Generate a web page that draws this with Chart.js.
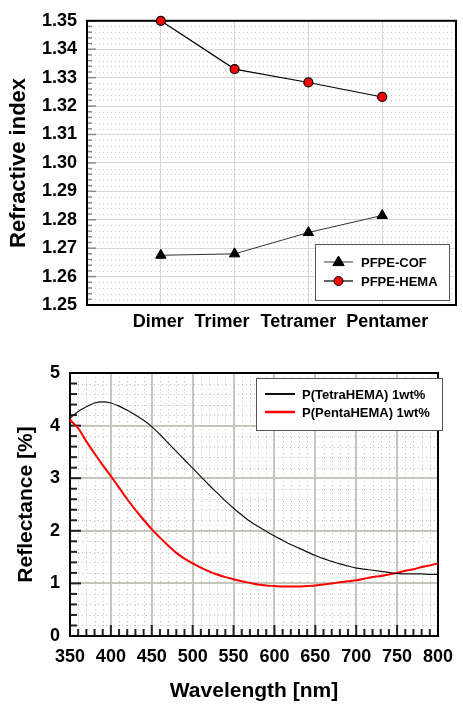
<!DOCTYPE html>
<html>
<head>
<meta charset="utf-8">
<script src="https://cdn.jsdelivr.net/npm/chart.js@4.4.1/dist/chart.umd.min.js"></script>
<style>
  body { margin: 0; background: #fff; }
  canvas { display: block; }
</style>
</head>
<body>
<canvas id="ri-chart" width="463" height="340"></canvas>
<canvas id="refl-chart" width="463" height="365"></canvas>
<script>
// top chart: refractive index per oligomer
const categories = ['Dimer', 'Trimer', 'Tetramer', 'Pentamer'];
const cofValues = [1.2675, 1.2680, 1.2755, 1.2815];
const hemaValues = [1.3500, 1.3330, 1.3283, 1.3232];
const riTicks = [1.25, 1.26, 1.27, 1.28, 1.29, 1.30, 1.31, 1.32, 1.33, 1.34, 1.35];

// bottom chart: reflectance spectra
const wavelengths = [350, 360, 370, 380, 390, 400, 410, 420, 430, 440,
  450, 460, 470, 480, 490, 500, 510, 520, 530, 540,
  550, 560, 570, 580, 590, 600, 610, 620, 630, 640,
  650, 660, 670, 680, 690, 700, 710, 720, 730, 740,
  750, 760, 770, 780, 790, 800];
const tetraValues = [4.14, 4.27, 4.36, 4.43, 4.45, 4.43, 4.37, 4.29, 4.20, 4.10,
  3.98, 3.83, 3.67, 3.51, 3.35, 3.19, 3.03, 2.87, 2.72, 2.57,
  2.43, 2.30, 2.18, 2.08, 1.99, 1.90, 1.82, 1.74, 1.67, 1.60,
  1.53, 1.47, 1.42, 1.37, 1.33, 1.29, 1.27, 1.25, 1.23, 1.21,
  1.19, 1.18, 1.18, 1.18, 1.17, 1.17];
const pentaValues = [4.11, 3.95, 3.70, 3.47, 3.25, 3.04, 2.82, 2.60, 2.40, 2.21,
  2.03, 1.87, 1.72, 1.58, 1.47, 1.38, 1.30, 1.23, 1.17, 1.12,
  1.08, 1.04, 1.01, 0.98, 0.96, 0.95, 0.94, 0.94, 0.94, 0.95,
  0.96, 0.98, 1.00, 1.02, 1.04, 1.06, 1.09, 1.12, 1.14, 1.17,
  1.20, 1.24, 1.27, 1.31, 1.34, 1.38];

const FONT = "'Liberation Sans', Arial, sans-serif";

function isMajor(v, step) {
  const r = v / step;
  return Math.abs(r - Math.round(r)) < 1e-6;
}

// dotted minor grid, inner tick marks and the black frame
const boxFrame = {
  id: 'boxFrame',
  beforeDraw(chart, args, o) {
    const { ctx, chartArea: a, scales } = chart;
    ctx.save();
    ctx.strokeStyle = o.dotColor;
    ctx.lineWidth = 1;
    ctx.setLineDash([1, 3]);
    if (o.yMinor) {
      for (let v = scales.y.min; v <= scales.y.max + 1e-9; v += o.yMinor) {
        if (isMajor(v - scales.y.min, o.yMajor)) continue;
        const y = Math.round(scales.y.getPixelForValue(v)) + 0.5;
        ctx.beginPath(); ctx.moveTo(a.left, y); ctx.lineTo(a.right, y); ctx.stroke();
      }
    }
    if (o.xMinor) {
      for (let v = scales.x.min; v <= scales.x.max + 1e-9; v += o.xMinor) {
        if (isMajor(v - scales.x.min, o.xMajor)) continue;
        const x = Math.round(scales.x.getPixelForValue(v)) + 0.5;
        ctx.beginPath(); ctx.moveTo(x, a.top); ctx.lineTo(x, a.bottom); ctx.stroke();
      }
    }
    ctx.restore();
  },
  beforeDatasetsDraw(chart, args, o) {
    const { ctx, chartArea: a, scales } = chart;
    ctx.save();
    ctx.strokeStyle = o.tickColor;
    ctx.lineWidth = o.tickWidth;
    if (o.yMinor) {
      for (let v = scales.y.min; v <= scales.y.max + 1e-9; v += o.yMinor) {
        const len = isMajor(v - scales.y.min, o.yMajor) ? o.majorLen : o.minorLen;
        const y = scales.y.getPixelForValue(v);
        ctx.beginPath(); ctx.moveTo(a.left, y); ctx.lineTo(a.left + len, y); ctx.stroke();
      }
    }
    if (o.xMinor) {
      for (let v = scales.x.min; v <= scales.x.max + 1e-9; v += o.xMinor) {
        const len = isMajor(v - scales.x.min, o.xMajor) ? o.majorLen : o.minorLen;
        const x = scales.x.getPixelForValue(v);
        ctx.beginPath(); ctx.moveTo(x, a.bottom); ctx.lineTo(x, a.bottom - len); ctx.stroke();
      }
    }
    ctx.strokeStyle = '#000';
    ctx.lineWidth = o.frameWidth;
    ctx.strokeRect(a.left, a.top, a.right - a.left, a.bottom - a.top);
    ctx.restore();
  }
};

// boxed legend like the original plot
const boxLegend = {
  id: 'boxLegend',
  afterDraw(chart, args, o) {
    const { ctx } = chart;
    const [bx, by, bw, bh] = o.box;
    ctx.save();
    ctx.fillStyle = '#fff';
    ctx.fillRect(bx, by, bw, bh);
    ctx.strokeStyle = '#555';
    ctx.lineWidth = 1;
    ctx.strokeRect(bx + 0.5, by + 0.5, bw, bh);
    chart.data.datasets.forEach((ds, i) => {
      const y = o.rows[i];
      ctx.strokeStyle = ds.borderColor;
      ctx.lineWidth = o.lineWidth ? o.lineWidth[i] : ds.borderWidth;
      ctx.beginPath(); ctx.moveTo(o.lineX[0], y); ctx.lineTo(o.lineX[1], y); ctx.stroke();
      const mx = (o.lineX[0] + o.lineX[1]) / 2;
      if (ds.pointRadius > 0) {
        ctx.fillStyle = ds.pointBackgroundColor;
        ctx.strokeStyle = ds.pointBorderColor;
        ctx.lineWidth = 1;
        const r = ds.pointRadius;
        ctx.beginPath();
        if (ds.pointStyle === 'triangle') {
          ctx.moveTo(mx, y - r);
          ctx.lineTo(mx + r * 0.95, y + r * 0.6);
          ctx.lineTo(mx - r * 0.95, y + r * 0.6);
          ctx.closePath();
        } else {
          ctx.arc(mx, y, r, 0, Math.PI * 2);
        }
        ctx.fill(); ctx.stroke();
      }
      ctx.fillStyle = '#000';
      ctx.font = o.font;
      ctx.textBaseline = 'middle';
      ctx.fillText(ds.label, o.textX, y + 1);
    });
    ctx.restore();
  }
};

const pad = (arr) => [null, ...arr, null];
// the original labels sit a little off their points; spaces nudge them
const labelNudge = ['', ' ', '     ', '    ', ''];
const labelLead = ['', '', '', '', '  '];

new Chart(document.getElementById('ri-chart'), {
  type: 'line',
  data: {
    labels: ['', ...categories, ''],
    datasets: [{
      label: 'PFPE-COF',
      data: pad(cofValues),
      borderColor: '#333',
      borderWidth: 1,
      pointStyle: 'triangle',
      pointRadius: 6,
      pointBackgroundColor: '#000',
      pointBorderColor: '#000',
      clip: false
    }, {
      label: 'PFPE-HEMA',
      data: pad(hemaValues),
      borderColor: '#000',
      borderWidth: 1.2,
      pointStyle: 'circle',
      pointRadius: 4.5,
      pointBackgroundColor: '#ff0000',
      pointBorderColor: '#000',
      clip: false
    }]
  },
  options: {
    responsive: false,
    animation: false,
    layout: { padding: { top: 18, right: 7, left: 0, bottom: 0 } },
    plugins: {
      legend: { display: false },
      tooltip: { enabled: false },
      boxFrame: {
        yMinor: 0.002, yMajor: 0.01, xMinor: null,
        dotColor: '#cfcfcf', tickColor: '#8a8a8a', tickWidth: 1.5,
        minorLen: 5, majorLen: 9, frameWidth: 2
      },
      boxLegend: {
        box: [315, 244, 134, 56], rows: [262, 281], lineX: [324, 353], textX: 361,
        font: 'bold 13px ' + FONT
      }
    },
    scales: {
      x: {
        type: 'category',
        offset: false,
        grid: { color: '#d6d6d6', lineWidth: 1, drawTicks: false },
        border: { display: false },
        ticks: {
          color: '#000', padding: 6, autoSkip: false, maxRotation: 0,
          font: { family: FONT, size: 18, weight: 'bold' },
          callback: function (v, i) {
            const name = this.getLabelForValue(v);
            if (!name) return '';
            return (labelLead[i] || '') + name + (labelNudge[i] || '');
          }
        },
        afterFit: (s) => { s.height = 35; }
      },
      y: {
        min: 1.25, max: 1.35,
        afterBuildTicks: (s) => { s.ticks = riTicks.map(v => ({ value: v })); },
        grid: { color: '#d6d6d6', lineWidth: 1, drawTicks: false },
        border: { display: false },
        ticks: {
          color: '#000', padding: 10,
          font: { family: FONT, size: 18, weight: 'bold' },
          callback: (v) => v.toFixed(2)
        },
        title: {
          display: true, text: 'Refractive index', color: '#000',
          font: { family: FONT, size: 22, weight: 'bold' },
          padding: { top: 6, bottom: 0 }
        },
        afterFit: (s) => { s.width = 87; }
      }
    }
  },
  plugins: [boxFrame, boxLegend]
});

new Chart(document.getElementById('refl-chart'), {
  type: 'line',
  data: {
    labels: wavelengths,
    datasets: [{
      label: 'P(TetraHEMA) 1wt%',
      data: wavelengths.map((w, i) => ({ x: w, y: tetraValues[i] })),
      borderColor: '#111',
      borderWidth: 1.2,
      pointRadius: 0,
      cubicInterpolationMode: 'monotone',
      clip: false
    }, {
      label: 'P(PentaHEMA) 1wt%',
      data: wavelengths.map((w, i) => ({ x: w, y: pentaValues[i] })),
      borderColor: '#ff0000',
      borderWidth: 2,
      pointRadius: 0,
      cubicInterpolationMode: 'monotone',
      clip: false
    }]
  },
  options: {
    responsive: false,
    animation: false,
    layout: { padding: { top: 33, right: 16, left: 0, bottom: 0 } },
    plugins: {
      legend: { display: false },
      tooltip: { enabled: false },
      boxFrame: {
        yMinor: 0.2, yMajor: 1, xMinor: 10, xMajor: 50,
        dotColor: '#c4c4bc', tickColor: '#222', tickWidth: 2,
        minorLen: 7, majorLen: 11, frameWidth: 2
      },
      boxLegend: {
        box: [256, 38, 186, 52], rows: [54, 72], lineX: [265, 295], textX: 302,
        lineWidth: [2, 2.5],
        font: 'bold 13px ' + FONT
      }
    },
    scales: {
      x: {
        type: 'linear',
        min: 350, max: 800,
        ticks: {
          stepSize: 50, color: '#000', padding: 10,
          font: { family: FONT, size: 18, weight: 'bold' }
        },
        grid: { color: '#c6c6be', lineWidth: 2, drawTicks: false },
        border: { display: false },
        title: {
          display: true, text: 'Wavelength [nm]', color: '#000',
          font: { family: FONT, size: 21, weight: 'bold' },
          padding: { top: 0, bottom: 1 }
        },
        afterFit: (s) => { s.height = 69; }
      },
      y: {
        min: 0, max: 5,
        ticks: {
          stepSize: 1, color: '#000', padding: 10,
          font: { family: FONT, size: 18, weight: 'bold' }
        },
        grid: { color: '#c6c6be', lineWidth: 2, drawTicks: false },
        border: { display: false },
        title: {
          display: true, text: 'Reflectance [%]', color: '#000',
          font: { family: FONT, size: 21, weight: 'bold' },
          padding: { top: 14, bottom: 0 }
        },
        afterFit: (s) => { s.width = 70; }
      }
    }
  },
  plugins: [boxFrame, boxLegend]
});
</script>
</body>
</html>
